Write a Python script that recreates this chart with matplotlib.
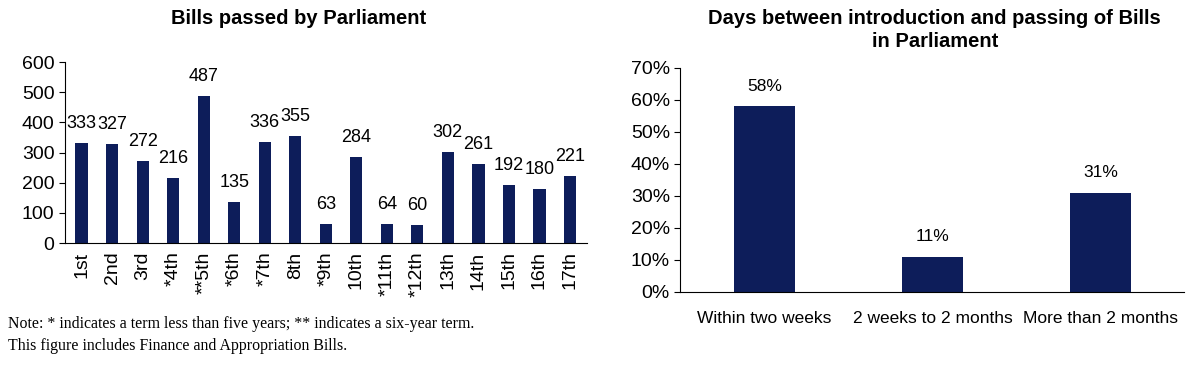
import matplotlib.pyplot as plt

# Bills passed per Parliament
terms = ['1st', '2nd', '3rd', '*4th', '**5th', '*6th', '*7th', '8th', '*9th', '10th',
         '*11th', '*12th', '13th', '14th', '15th', '16th', '17th']
bills = [333, 327, 272, 216, 487, 135, 336, 355, 63, 284, 64, 60, 302, 261, 192, 180, 221]

# Days between introduction and passing
periods = ['Within two weeks', '2 weeks to 2 months', 'More than 2 months']
shares = [58, 11, 31]

navy = '#0d1d5a'
plt.rcParams['font.family'] = ['Liberation Sans', 'DejaVu Sans']

fig = plt.figure(figsize=(12, 3.65), dpi=100)

# left chart
ax1 = fig.add_axes([0.054, 0.334, 0.435, 0.496])
x1 = range(len(terms))
ax1.bar(x1, bills, width=0.4, color=navy)
for i, v in zip(x1, bills):
    ax1.annotate(str(v), (i, v), xytext=(0, 8), textcoords='offset points',
                 ha='center', va='bottom', fontsize=13)
ax1.set_ylim(0, 600)
ax1.set_xlim(-0.55, len(terms) - 0.45)
ax1.set_yticks(range(0, 601, 100))
ax1.set_xticks(list(x1))
ax1.set_xticklabels(terms, rotation=90)
ax1.tick_params(axis='y', labelsize=14, length=4, direction='out')
ax1.tick_params(axis='x', labelsize=14, length=0, pad=6)
for s in ['top', 'right']:
    ax1.spines[s].set_visible(False)
fig.text(0.249, 0.95, 'Bills passed by Parliament', fontsize=14.5, fontweight='bold',
         ha='center', va='center')

fig.text(0.007, 0.082, 'Note: * indicates a term less than five years; ** indicates a six-year term.\n'
         'This figure includes Finance and Appropriation Bills.',
         family=['Liberation Serif', 'DejaVu Serif'], fontsize=11.4, va='center', linespacing=1.45)

# right chart
ax2 = fig.add_axes([0.567, 0.2, 0.42, 0.614])
x2 = range(len(periods))
ax2.bar(x2, shares, width=0.36, color=navy)
for i, v in zip(x2, shares):
    ax2.annotate(f'{v}%', (i, v), xytext=(0, 9), textcoords='offset points',
                 ha='center', va='bottom', fontsize=12.5)
ax2.set_ylim(0, 70)
ax2.set_xlim(-0.5, len(periods) - 0.5)
ax2.set_yticks(range(0, 71, 10))
ax2.set_yticklabels([f'{t}%' for t in range(0, 71, 10)])
ax2.set_xticks(list(x2))
ax2.set_xticklabels(periods)
ax2.tick_params(axis='y', labelsize=14, length=4, direction='out')
ax2.tick_params(axis='x', labelsize=12.5, length=0, pad=14)
for s in ['top', 'right']:
    ax2.spines[s].set_visible(False)
fig.text(0.779, 0.918, 'Days between introduction and passing of Bills\nin Parliament',
         fontsize=14.5, fontweight='bold', ha='center', va='center', linespacing=1.25)

fig.savefig('out.png', dpi=100)
